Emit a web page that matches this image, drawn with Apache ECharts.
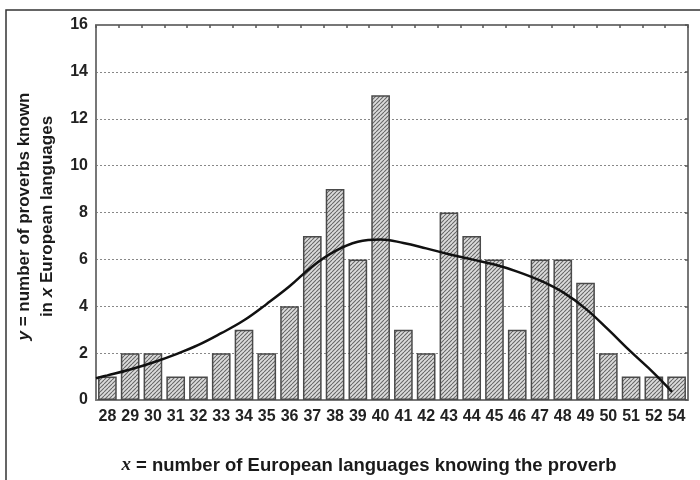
<!DOCTYPE html>
<html>
<head>
<meta charset="utf-8">
<script src="https://cdn.jsdelivr.net/npm/echarts@6.0.0/dist/echarts.min.js"></script>
<style>
html,body{margin:0;padding:0;background:#fff;}
#chart{width:700px;height:480px;}
</style>
</head>
<body>
<div id="chart"></div>
<script>
var categories = ['28','29','30','31','32','33','34','35','36','37','38','39','40','41','42','43','44','45','46','47','48','49','50','51','52','54'];
var counts = [1,2,2,1,1,2,3,2,4,7,9,6,13,3,2,8,7,6,3,6,6,5,2,1,1,1];
// fitted curve: position along the category axis (index) and value
var trendPos = [-0.5,0,1,2,3,4,5,6,7,8,9,10,11,12,13,14,15,16,17,18,19,20,21,22,23,24,24.8];
var trendVal = [0.93,1.05,1.3,1.6,1.95,2.35,2.85,3.4,4.1,4.85,5.7,6.35,6.75,6.85,6.7,6.47,6.22,6.0,5.78,5.48,5.1,4.6,3.9,3.0,2.05,1.15,0.35];
var yTicks = [0,2,4,6,8,10,12,14,16];

function makePattern() {
  var s = 4;
  var c = document.createElement('canvas');
  c.width = s; c.height = s;
  var ctx = c.getContext('2d');
  ctx.fillStyle = '#dcdcdc';
  ctx.fillRect(0, 0, s, s);
  ctx.strokeStyle = '#666';
  ctx.lineWidth = 1.1;
  [-s, 0, s].forEach(function (o) {
    ctx.beginPath();
    ctx.moveTo(o, s);
    ctx.lineTo(o + s, 0);
    ctx.stroke();
  });
  return c;
}

var trendData = trendPos.map(function (p, i) { return [p, trendVal[i]]; });

var FONT = 'Liberation Sans';
var chart = echarts.init(document.getElementById('chart'));
chart.setOption({
  animation: false,
  backgroundColor: '#fff',
  grid: {left: 96, right: 12, top: 25, bottom: 76, containLabel: false},
  graphic: [{
    type: 'rect',
    shape: {x: 6, y: 10, width: 720, height: 500},
    style: {fill: 'none', stroke: '#333', lineWidth: 1.5},
    silent: true
  }],
  xAxis: [{
    type: 'category',
    data: categories,
    position: 'bottom',
    axisLine: {show: true, onZero: false, lineStyle: {color: '#777', width: 2}},
    axisTick: {show: false},
    axisLabel: {color: '#222', fontFamily: FONT, fontWeight: 'bold', fontSize: 16, margin: 9, interval: 0},
    name: '{it|x} = number of European languages knowing the proverb',
    nameLocation: 'middle',
    nameGap: 56,
    nameTextStyle: {
      color: '#1a1a1a', fontFamily: FONT, fontWeight: 'bold', fontSize: 18.5,
      padding: [0, 46, 0, 0],
      rich: {it: {fontFamily: 'Liberation Serif', fontStyle: 'italic', fontWeight: 'bold', fontSize: 19, color: '#1a1a1a'}}
    }
  }, {
    type: 'category',
    data: categories,
    position: 'top',
    axisLine: {show: true, onZero: false, lineStyle: {color: '#777', width: 2}},
    axisTick: {show: true, inside: true, length: 3, lineStyle: {color: '#555', width: 1.5}},
    axisLabel: {show: false}
  }, {
    type: 'value',
    min: -0.5, max: categories.length - 0.5,
    show: false
  }],
  yAxis: [{
    type: 'value',
    min: 0, max: 16, interval: 2,
    position: 'left',
    axisLine: {show: true, onZero: false, lineStyle: {color: '#777', width: 2}},
    axisTick: {show: false},
    axisLabel: {color: '#222', fontFamily: FONT, fontWeight: 'bold', fontSize: 16, margin: 8,
      formatter: function (v) { return yTicks.indexOf(v) >= 0 ? String(v) : ''; }},
    splitLine: {show: true, lineStyle: {color: '#888', type: [2, 2], width: 1}},
    name: '{it|y} = number of proverbs known\nin {it|x} European languages',
    nameLocation: 'middle',
    nameRotate: 90,
    nameGap: 36,
    nameTextStyle: {
      color: '#1a1a1a', fontFamily: FONT, fontWeight: 'bold', fontSize: 17, lineHeight: 23, align: 'center',
      padding: [0, 8, 0, 0],
      rich: {it: {fontFamily: FONT, fontStyle: 'italic', fontWeight: 'bold', fontSize: 17, color: '#1a1a1a'}}
    }
  }, {
    type: 'value',
    min: 0, max: 16, interval: 2,
    position: 'right',
    axisLine: {show: true, onZero: false, lineStyle: {color: '#777', width: 2}},
    axisTick: {show: true, inside: true, length: 3, lineStyle: {color: '#555', width: 1.5}},
    axisLabel: {show: false},
    splitLine: {show: false}
  }],
  series: [{
    type: 'bar',
    data: counts,
    barCategoryGap: '18%',
    itemStyle: {
      color: {image: makePattern(), repeat: 'repeat'},
      borderColor: '#4a4a4a',
      borderWidth: 1.5
    },
    z: 2
  }, {
    type: 'line',
    xAxisIndex: 2,
    data: trendData,
    smooth: 0.4,
    showSymbol: false,
    symbol: 'none',
    lineStyle: {color: '#111', width: 2.5},
    z: 3
  }]
});
</script>
</body>
</html>
